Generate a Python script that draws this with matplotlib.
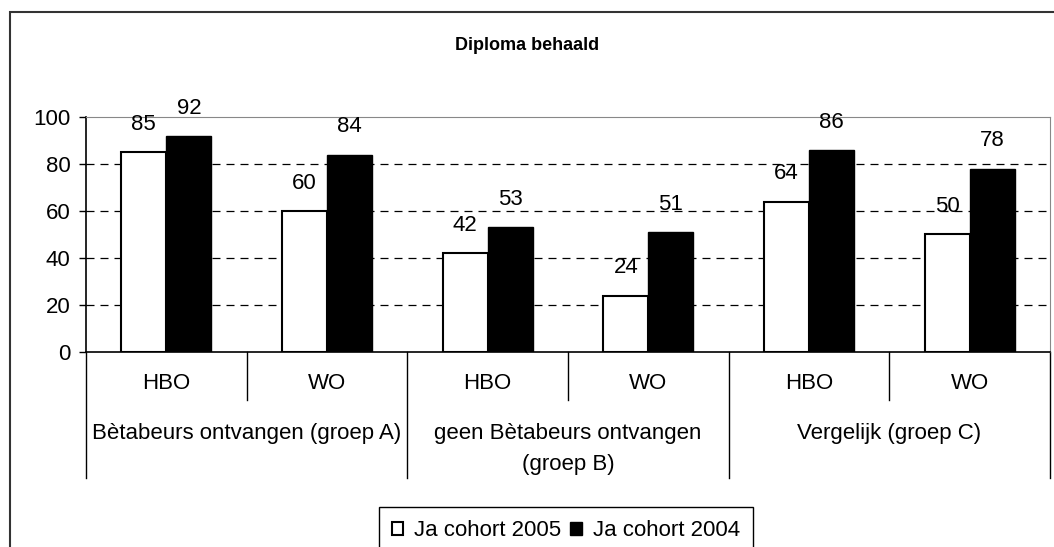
"""Diploma behaald - grouped bar chart, cohort 2005 vs 2004."""

import matplotlib

matplotlib.use("Agg")

import matplotlib.pyplot as plt
import matplotlib.transforms as mtransforms
from matplotlib.patches import Rectangle
import numpy as np

plt.rcParams["font.family"] = ["Liberation Sans", "DejaVu Sans"]

SUB_LABELS = ["HBO", "WO", "HBO", "WO", "HBO", "WO"]
GROUP_LABELS = [
    "Bètabeurs ontvangen (groep A)",
    "geen Bètabeurs ontvangen\n(groep B)",
    "Vergelijk (groep C)",
]
SERIES_NAMES = ["Ja cohort 2005", "Ja cohort 2004"]
COHORT_2005 = [85, 60, 42, 24, 64, 50]
COHORT_2004 = [92, 84, 53, 51, 86, 78]
Y_TICKS = [0, 20, 40, 60, 80, 100]

FS = 16
W, H = 1054, 547
fig = plt.figure(figsize=(W / 100, H / 100), dpi=100)
ax = fig.add_axes([86 / W, 1 - 352 / H, (1050 - 86) / W, (352 - 117) / H])

x = np.arange(len(SUB_LABELS))
bw = 0.28
b1 = ax.bar(x - bw / 2, COHORT_2005, bw, color="white", edgecolor="black",
            linewidth=1.5, label=SERIES_NAMES[0], zorder=3)
b2 = ax.bar(x + bw / 2, COHORT_2004, bw, color="black", edgecolor="black",
            linewidth=1, label=SERIES_NAMES[1], zorder=3)

for bars in (b1, b2):
    for rect in bars:
        v = rect.get_height()
        ax.annotate(f"{v:g}", (rect.get_x() + rect.get_width() / 2, v),
                    textcoords="offset points", xytext=(0, 20),
                    ha="center", va="center", fontsize=FS, zorder=4)

ax.set_xlim(-0.5, len(SUB_LABELS) - 0.5)
ax.set_ylim(0, 100)
ax.set_yticks(Y_TICKS)
ax.tick_params(axis="y", labelsize=FS, length=5, width=1, pad=6)
ax.set_xticks([])
for y in Y_TICKS[1:-1]:
    ax.axhline(y, color="black", linestyle=(0, (6.4, 4.8)), linewidth=0.9,
               zorder=1)

ax.spines["top"].set_color("#888888")
ax.spines["right"].set_color("#888888")
ax.spines["left"].set_linewidth(1.2)
ax.spines["bottom"].set_linewidth(1.2)

# multi-level category axis
trans = mtransforms.blended_transform_factory(ax.transData, ax.transAxes)
for i, lab in enumerate(SUB_LABELS):
    ax.text(i, -0.136, lab, transform=trans, ha="center", va="center",
            fontsize=FS)
for b in np.arange(0.5, len(SUB_LABELS), 2):
    ax.plot([b, b], [0, -0.204], transform=trans, color="black",
            linewidth=1, clip_on=False)
for b in np.arange(-0.5, len(SUB_LABELS), 2):
    ax.plot([b, b], [0, -0.536], transform=trans, color="black",
            linewidth=1, clip_on=False)
for g, lab in enumerate(GROUP_LABELS):
    ax.text(2 * g + 0.5, -0.302, lab, transform=trans, ha="center", va="top",
            fontsize=FS, linespacing=1.6, multialignment="center")

fig.text(527 / W, 1 - 45 / H, "Diploma behaald", ha="center", va="center",
         fontsize=13, fontweight="bold")

fig.legend(handles=[b1, b2], loc="upper center",
           bbox_to_anchor=(566 / W, 1 - 507 / H), ncol=2, fontsize=FS,
           frameon=True, fancybox=False, edgecolor="black", framealpha=1,
           handlelength=0.5, handleheight=0.5, handletextpad=0.5,
           columnspacing=0.4, borderpad=0.6, borderaxespad=0)

fig.patches.append(Rectangle((10 / W, -0.1), 1.2, 1.1 - 12 / H,
                             transform=fig.transFigure, fill=False,
                             edgecolor="#333333", linewidth=1.5))

fig.savefig("out.png", dpi=100)
